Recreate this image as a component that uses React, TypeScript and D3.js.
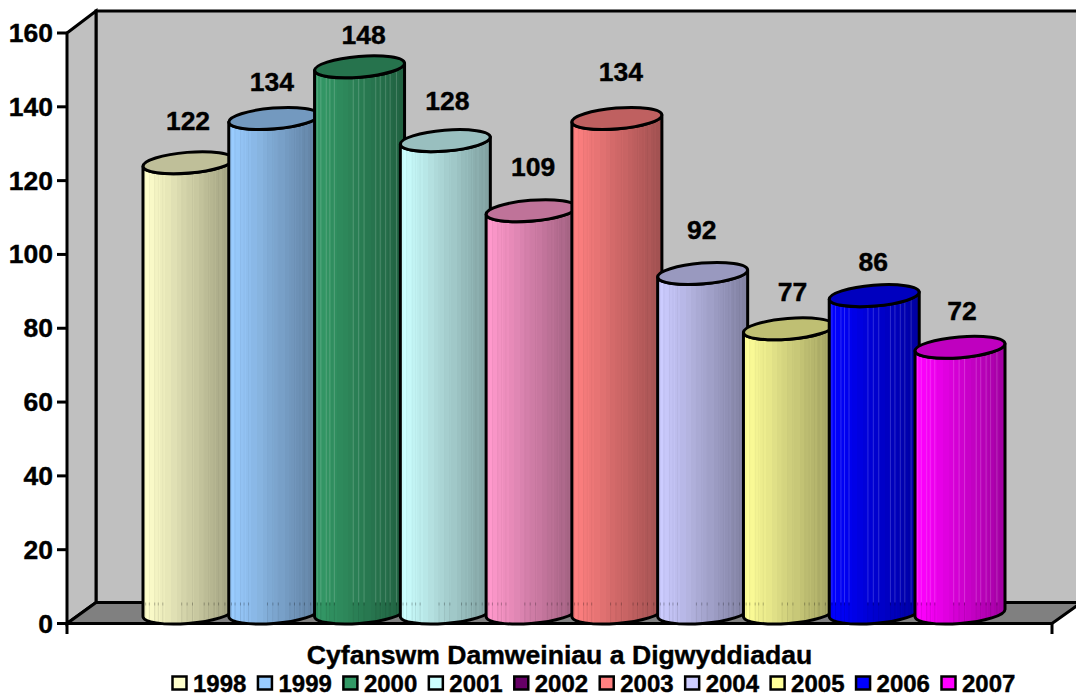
import React from "react";
import * as d3 from "d3";

const years = ["1998", "1999", "2000", "2001", "2002", "2003", "2004", "2005", "2006", "2007"];
const totals = [122, 134, 148, 128, 109, 134, 92, 77, 86, 72];
const barColors = ["#FFFFCC", "#99CCFF", "#339966", "#CCFFFF", "#FF99CC", "#FF8080", "#CCCCFF", "#FFFF99", "#0000FF", "#FF00FF"];
const legendColors = ["#FFFFCC", "#99CCFF", "#339966", "#CCFFFF", "#660066", "#FF8080", "#CCCCFF", "#FFFF99", "#0000FF", "#FF00FF"];
const yTicks = [0, 20, 40, 60, 80, 100, 120, 140, 160];
const xTitle = "Cyfanswm Damweiniau a Digwyddiadau";
// how far each value label sits above its cylinder, and its sideways drift
const labelLift = [22, 17, 12, 20, 24, 27, 24, 17, 14, 17];
const labelDrift = [0, -2, 4, 2, 2, 4, -1, 4, -1, 2];
const stripes = [0.03, 0.07, 0.13, 0.17, 0.22, 0.43, 0.49, 0.55, 0.68, 0.73, 0.79, 0.84, 0.91];

const W = 1076, H = 694;
const FONT = "'Liberation Sans', Arial, sans-serif";
const frontX = 67, backX = 96, backTop = 11, floorBack = 602.5;
const y = d3.scaleLinear().domain([0, 160]).range([623.5, 33]);
const cx = d3.scaleLinear().domain([0, 9]).range([188, 960]);
const legendX = d3.scaleLinear().domain([0, 9]).range([172, 941]);

const HW = 45, RX = 45.1, RY = 10.4, ROT = -4.7, SKEW = 3.5, DEPTH = 10.5;
const LW = 3;

const sidePath = (c: number, v: number) => {
  const t = y(v) - DEPTH, b = y(0) - DEPTH;
  return `M${c - HW},${t + SKEW}L${c - HW},${b + SKEW}A${RX},${RY} ${ROT} 0 0 ${c + HW},${b - SKEW}L${c + HW},${t - SKEW}A${RX},${RY} ${ROT} 0 1 ${c - HW},${t + SKEW}Z`;
};

const shade = (col: string, k: number) => {
  const c = d3.rgb(col);
  return d3.rgb(c.r * k, c.g * k, c.b * k).formatHex();
};
const bandCount = 16;
const textStyle = { stroke: "#000", strokeWidth: 0.4 };

export default function App() {
  return (
    <svg width={W} height={H} viewBox={`0 0 ${W} ${H}`} style={{ position: "absolute", left: 0, top: 0, background: "#fff" }} fontFamily={FONT} fontWeight="bold">
      <defs>
        {years.map((yr, i) => (
          <linearGradient key={yr} id={`g${i}`} x1="0" x2="1" y1="0" y2="0">
            {d3.range(bandCount).flatMap((k) => {
              const col = shade(barColors[i], 1 - 0.36 * (k / (bandCount - 1)));
              return [
                <stop key={`${k}a`} offset={k / bandCount} stopColor={col} />,
                <stop key={`${k}b`} offset={(k + 1) / bandCount} stopColor={col} />,
              ];
            })}
          </linearGradient>
        ))}
        {years.map((yr, i) => (
          <clipPath key={yr} id={`c${i}`}>
            <path d={sidePath(cx(i), totals[i])} />
          </clipPath>
        ))}
      </defs>

      {/* walls and floor */}
      <rect x={backX} y={backTop} width={W - backX + 10} height={floorBack - backTop} fill="#C0C0C0" stroke="#000" strokeWidth={LW} />
      <polygon points={`${frontX},${y(160)} ${backX},${backTop} ${backX},${floorBack} ${frontX},${y(0)}`} fill="#C0C0C0" stroke="#000" strokeWidth={LW} />
      <polygon points={`${frontX},${y(0)} ${backX},${floorBack} ${1080},${floorBack} ${1085},${600} ${1052},${y(0)}`} fill="#808080" stroke="#000" strokeWidth={LW} />

      {/* axis ticks */}
      {yTicks.map((t) => (
        <g key={t}>
          <line x1={frontX - 10} x2={frontX} y1={y(t)} y2={y(t)} stroke="#000" strokeWidth={LW} />
          <text x={53} y={y(t) + 9} textAnchor="end" fontSize={26.5} style={textStyle}>{t}</text>
        </g>
      ))}
      <line x1={frontX} x2={frontX} y1={y(0)} y2={634} stroke="#000" strokeWidth={LW} />
      <line x1={1052} x2={1052} y1={y(0)} y2={634} stroke="#000" strokeWidth={LW} />

      {/* cylinders */}
      {years.map((yr, i) => {
        const c = cx(i), v = totals[i];
        const topY = y(v) - DEPTH;
        const dark = d3.hsl(barColors[i]).l < 0.55;
        return (
          <g key={yr}>
            <path d={sidePath(c, v)} fill={`url(#g${i})`} />
            <g clipPath={`url(#c${i})`}>
              {stripes.map((f) => (
                <g key={f}>
                  <line x1={c - HW + f * 2 * HW} x2={c - HW + f * 2 * HW} y1={topY} y2={floorBack} stroke={dark ? "#fff" : "#000"} strokeOpacity={dark ? 0.18 : 0.035} strokeWidth={1} />
                  <line x1={c - HW + f * 2 * HW} x2={c - HW + f * 2 * HW} y1={floorBack} y2={floorBack + 3} stroke="#000" strokeOpacity={0.3} strokeWidth={1} />
                  <line x1={c - HW + f * 2 * HW} x2={c - HW + f * 2 * HW} y1={floorBack + 3} y2={y(0)} stroke="#000" strokeOpacity={0.09} strokeWidth={1} />
                </g>
              ))}
            </g>
            <path d={sidePath(c, v)} fill="none" stroke="#000" strokeWidth={LW} strokeLinejoin="round" />
            <ellipse cx={c} cy={topY} rx={RX} ry={RY} transform={`rotate(${ROT} ${c} ${topY})`} fill={shade(barColors[i], 0.75)} stroke="#000" strokeWidth={LW} />
          </g>
        );
      })}

      {/* value labels */}
      {years.map((yr, i) => (
        <text key={yr} x={cx(i) + labelDrift[i]} y={y(totals[i]) - 2 * DEPTH - labelLift[i]} textAnchor="middle" fontSize={26.5} style={textStyle}>{totals[i]}</text>
      ))}

      {/* title and legend */}
      <text x={559.5} y={664} textAnchor="middle" fontSize={26.6} style={textStyle}>{xTitle}</text>
      {years.map((yr, i) => (
        <g key={yr}>
          <rect x={legendX(i) + 0.5} y={676.5} width={14} height={13} fill={legendColors[i]} stroke="#000" strokeWidth={2.5} />
          <text x={legendX(i) + 21} y={692} fontSize={24} style={textStyle}>{yr}</text>
        </g>
      ))}
    </svg>
  );
}
